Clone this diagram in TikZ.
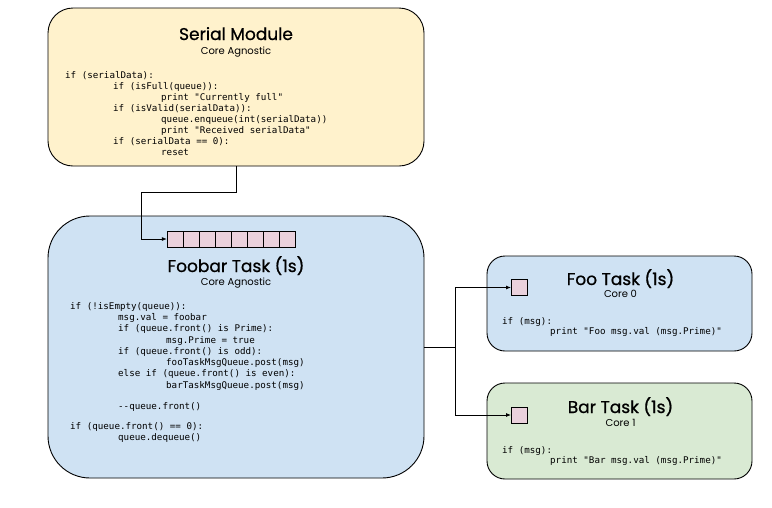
\documentclass[tikz,border=0pt]{standalone}
\usepackage{fontspec}
\setmainfont{Poppins}
\newfontfamily\titlefont{Poppins}[FakeBold=0.8]
\newfontfamily\subfont{Poppins}
\newfontfamily\codefont{DejaVu Sans Mono}
\usetikzlibrary{arrows.meta,calc}
\definecolor{serialfill}{HTML}{FFF2CC}
\definecolor{bluefill}{HTML}{CFE2F3}
\definecolor{greenfill}{HTML}{D9EAD3}
\definecolor{cellfill}{HTML}{EAD1DC}
\newcommand\codetab{\hspace*{48pt}}
\tikzset{
  box/.style={draw=black, line width=0.9pt, inner sep=0pt},
  cell/.style={draw=black, line width=0.8pt, fill=cellfill, minimum width=16.05pt, minimum height=16pt, inner sep=0pt},
  ttl/.style={font={\titlefont\fontsize{17}{20}\selectfont}, anchor=base, inner sep=0pt},
  sub/.style={font={\subfont\fontsize{10}{12}\selectfont}, anchor=base, inner sep=0pt},
  code/.style={font={\codefont\fontsize{9.2}{11.3}\selectfont}, align=left, anchor=north west, inner sep=0pt},
  conn/.style={line width=0.9pt, -{Latex[length=5pt,width=4pt]}},
  plain/.style={line width=0.9pt}
}
\begin{document}
\begin{tikzpicture}[x=1pt,y=-1pt]
\useasboundingbox[fill=white] (0,0) rectangle (772,507);
% boxes
\node[box, fill=serialfill, rounded corners=25pt, minimum width=376pt, minimum height=158pt] (serial) at (236,87) {};
\node[box, fill=bluefill, rounded corners=42pt, minimum width=376pt, minimum height=262pt] (foobar) at (236,347) {};
\node[box, fill=bluefill, rounded corners=18pt, minimum width=265pt, minimum height=95pt] (foo) at (619.5,303.5) {};
\node[box, fill=greenfill, rounded corners=18pt, minimum width=265pt, minimum height=96pt] (bar) at (619.5,431) {};
% queue cells
\foreach \i in {1,...,8}{
  \node[cell] (q\i) at ({167.3+16.05*(\i-0.5)},239) {};
}
\node[cell] (fsq) at (519.5,287.5) {};
\node[cell] (bsq) at (519.5,415) {};
% titles
\node[ttl] (stitle) at (236,40) {Serial Module};
\node[sub] (ssub) at (236,54) {Core Agnostic};
\node[ttl] (ftitle) at (236,272) {Foobar Task (1s)};
\node[sub] (fsub) at (236,285) {Core Agnostic};
\node[ttl] (footitle) at (620.5,285) {Foo Task (1s)};
\node[sub] (foosub) at (620.5,297) {Core 0};
\node[ttl] (bartitle) at (620.5,413) {Bar Task (1s)};
\node[sub] (barsub) at (620.5,426) {Core 1};
% code
\node[code, font={\codefont\fontsize{9.2}{11.1}\selectfont}] (scode) at (65,71) {if (serialData):\\
\codetab if (isFull(queue)):\\
\codetab\codetab print "Currently full"\\
\codetab if (isValid(serialData)):\\
\codetab\codetab queue.enqueue(int(serialData))\\
\codetab\codetab print "Received serialData"\\
\codetab if (serialData == 0):\\
\codetab\codetab reset};
\node[code] (fcode) at (70,302) {if (!isEmpty(queue)):\\
\codetab msg.val = foobar\\
\codetab if (queue.front() is Prime):\\
\codetab\codetab msg.Prime = true\\
\codetab if (queue.front() is odd):\\
\codetab\codetab fooTaskMsgQueue.post(msg)\\
\codetab else if (queue.front() is even):\\
\codetab\codetab barTaskMsgQueue.post(msg)\\[9.5pt]
\codetab -{}-queue.front()\\[8.8pt]
if (queue.front() == 0):\\
\codetab queue.dequeue()};
\node[code, font={\codefont\fontsize{9.2}{10.7}\selectfont}] (foocode) at (502,317) {if (msg):\\
\codetab print "Foo msg.val (msg.Prime)"};
\node[code, font={\codefont\fontsize{9.2}{10.7}\selectfont}] (barcode) at (502,446) {if (msg):\\
\codetab print "Bar msg.val (msg.Prime)"};
% connectors
\draw[conn] (serial.south) -- ++(0,26) -| ([xshift=-25pt]q1.west) -- (q1.west);
\draw[plain] (foobar.east) -- ++(31,0) coordinate (split);
\draw[conn] (split) |- (fsq.west);
\draw[conn] (split) |- (bsq.west);
\end{tikzpicture}
\end{document}
